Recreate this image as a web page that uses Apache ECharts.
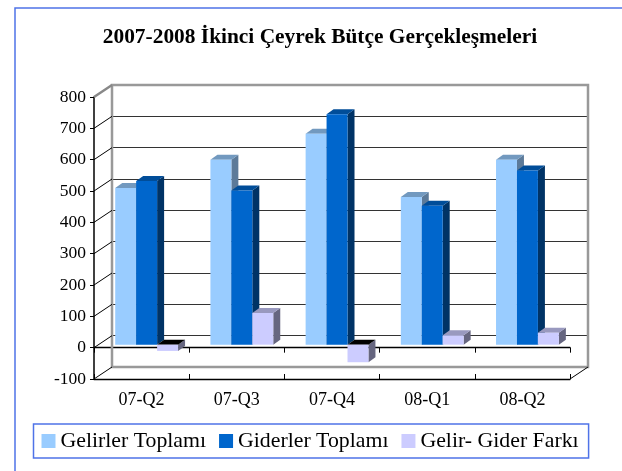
<!DOCTYPE html>
<html>
<head>
<meta charset="utf-8">
<style>
html, body { margin: 0; padding: 0; background: #fff; }
#chart { width: 622px; height: 471px; }
</style>
<script src="https://cdn.jsdelivr.net/npm/echarts@6/dist/echarts.min.js"></script>
</head>
<body>
<div id="chart"></div>
<script>
const titleText = '2007-2008 İkinci Çeyrek Bütçe Gerçekleşmeleri'
const categories = ['07-Q2', '07-Q3', '07-Q4', '08-Q1', '08-Q2']
const gelirler = [500, 590, 673, 471, 590]
const giderler = [522, 492, 735, 443, 556]
const fark = [-20, 101, -56, 30, 38]
const yTicks = [800, 700, 600, 500, 400, 300, 200, 100, 0, -100]

const fontName = '"Liberation Serif", "Times New Roman", serif'
const wallDx = 18
const wallDy = -12
const barDepthX = 7
const barDepthY = -5
const frameColor = '#4f73e8'

// one series of fake 3d bars, offset is the place inside the group (-1, 0, 1)
function barRenderer(offset, front, top, side) {
    return function (params, api) {
        const base = api.coord([api.value(0), 0])
        const end = api.coord([api.value(0), api.value(1)])
        const w = api.size([1, 0])[0] * 0.22
        const x0 = base[0] + (offset - 0.5) * w
        const x1 = x0 + w
        const high = Math.min(base[1], end[1])
        const low = Math.max(base[1], end[1])
        const negative = api.value(1) < 0
        return {
            type: 'group',
            children: [
                {
                    type: 'polygon',
                    shape: { points: [[x1, high], [x1 + barDepthX, high + barDepthY], [x1 + barDepthX, low + barDepthY], [x1, low]] },
                    style: { fill: side }
                },
                {
                    type: 'polygon',
                    shape: { points: [[x0, high], [x0 + barDepthX, high + barDepthY], [x1 + barDepthX, high + barDepthY], [x1, high]] },
                    style: { fill: negative ? '#000' : top }
                },
                {
                    type: 'rect',
                    shape: { x: x0, y: high, width: w, height: low - high },
                    style: { fill: front }
                }
            ]
        }
    }
}

function barSeries(name, values, offset, front, top, side) {
    return {
        name: name,
        type: 'custom',
        xAxisIndex: 3,
        yAxisIndex: 2,
        clip: false,
        itemStyle: { color: front },
        encode: { x: 0, y: 1 },
        data: values.map((v, i) => [i, v]),
        renderItem: barRenderer(offset, front, top, side)
    }
}

const myChart = echarts.init(document.getElementById('chart'))

const hiddenY = { type: 'value', min: -100, max: 800, interval: 100, show: false }
const hiddenX = { type: 'category', data: categories, show: false }

const option = {
    animation: false,
    backgroundColor: '#fff',
    title: {
        text: titleText,
        left: 315,
        top: 22,
        textAlign: 'center',
        textStyle: { fontFamily: fontName, fontSize: 21.4, fontWeight: 'bold', color: '#000' }
    },
    legend: {
        left: 33.5,
        top: 424,
        padding: [6, 10, 6, 8],
        borderColor: frameColor,
        borderWidth: 1.5,
        itemGap: 13,
        itemWidth: 14,
        itemHeight: 14,
        icon: 'rect',
        data: ['Gelirler Toplamı', 'Giderler Toplamı', 'Gelir- Gider Farkı'],
        textStyle: { fontFamily: fontName, fontSize: 21.8, color: '#000' }
    },
    graphic: [
        { type: 'polyline', silent: true, shape: { points: [[622, 8], [15, 8], [15, 471]] }, style: { stroke: frameColor, lineWidth: 1.5, fill: null } }
    ],
    grid: [
        { left: 94, top: 97, width: 476, height: 282 },
        { left: 94 + wallDx, top: 97 + wallDy, width: 476, height: 282 },
        { left: 94 + wallDx * 0.28, top: 97 + wallDy * 0.25, width: 476, height: 282 }
    ],
    xAxis: [
        {
            type: 'category',
            data: categories,
            gridIndex: 0,
            position: 'bottom',
            axisLine: { onZero: false, lineStyle: { color: '#000', width: 1.3 } },
            axisTick: { show: true, inside: true, length: 5, lineStyle: { color: '#000' } },
            axisLabel: { color: '#000', fontFamily: fontName, fontSize: 18, margin: 12 }
        },
        {
            type: 'category',
            data: categories,
            gridIndex: 0,
            position: 'bottom',
            axisLine: { onZero: true, lineStyle: { color: '#000', width: 1.3 } },
            axisTick: { show: true, length: 5, lineStyle: { color: '#000' } },
            axisLabel: { show: false }
        },
        Object.assign({ gridIndex: 1 }, hiddenX),
        Object.assign({ gridIndex: 2 }, hiddenX)
    ],
    yAxis: [
        {
            type: 'value',
            gridIndex: 0,
            min: -100,
            max: 800,
            interval: 100,
            axisLine: { show: true, lineStyle: { color: '#000', width: 1.5 } },
            axisTick: { show: true, length: 4, lineStyle: { color: '#000' } },
            axisLabel: { color: '#000', fontFamily: fontName, fontSize: 17.5, margin: 8 },
            splitLine: { show: false }
        },
        {
            type: 'value',
            gridIndex: 1,
            min: -100,
            max: 800,
            interval: 100,
            axisLine: { show: false },
            axisTick: { show: false },
            axisLabel: { show: false },
            splitLine: { show: true, lineStyle: { color: '#333', width: 1 } }
        },
        Object.assign({ gridIndex: 2 }, hiddenY)
    ],
    series: [
        {
            // back wall frame, drawn over the gridlines
            type: 'custom',
            xAxisIndex: 2,
            yAxisIndex: 1,
            silent: true,
            clip: false,
            data: [[0, 0]],
            encode: { x: 0, y: 1 },
            renderItem(params) {
                const c = params.coordSys
                return {
                    type: 'rect',
                    shape: { x: c.x, y: c.y, width: c.width, height: c.height },
                    style: { fill: null, stroke: '#999', lineWidth: 2.5 }
                }
            }
        },
        {
            // side wall, from the front axis ticks back to the wall
            type: 'custom',
            xAxisIndex: 0,
            yAxisIndex: 0,
            silent: true,
            clip: false,
            data: yTicks.map(v => [0, v]),
            encode: { y: 1 },
            renderItem(params, api) {
                const v = api.value(1)
                const c = params.coordSys
                const y = api.coord([0, v])[1]
                const lines = [{
                    type: 'line',
                    shape: { x1: c.x, y1: y, x2: c.x + wallDx, y2: y + wallDy },
                    style: { stroke: v === 800 ? '#888' : '#000', lineWidth: v === 800 ? 2.5 : 1 }
                }]
                if (v === -100) {
                    lines.push({
                        type: 'line',
                        shape: { x1: c.x + c.width, y1: y, x2: c.x + c.width + wallDx, y2: y + wallDy },
                        style: { stroke: '#000', lineWidth: 1 }
                    })
                }
                return { type: 'group', children: lines }
            }
        },
        barSeries('Gelirler Toplamı', gelirler, -1, '#99ccff', '#7299bf', '#5c7a99'),
        barSeries('Giderler Toplamı', giderler, 0, '#0066cc', '#004d99', '#003366'),
        barSeries('Gelir- Gider Farkı', fark, 1, '#ccccff', '#9999bf', '#666680')
    ]
}
myChart.setOption(option)
</script>
</body>
</html>
